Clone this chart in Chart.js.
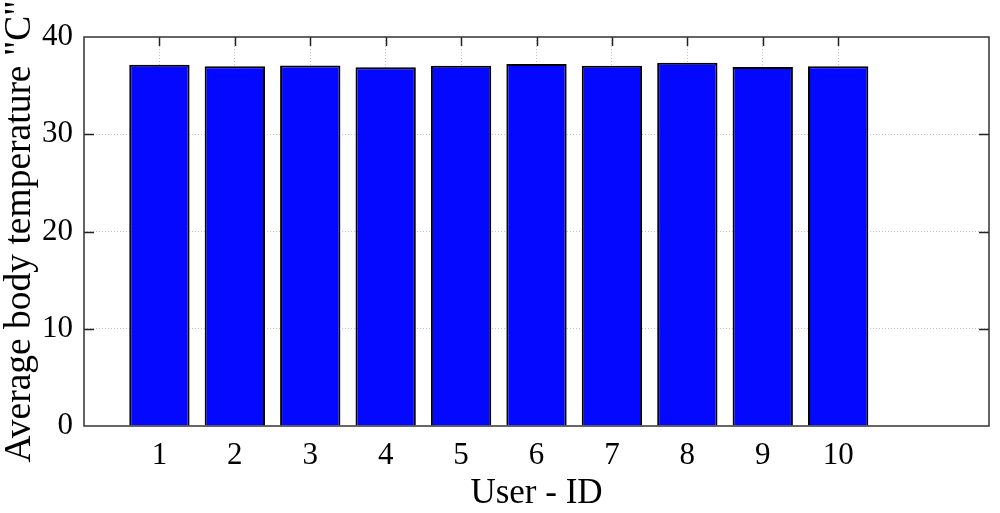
<!DOCTYPE html>
<html>
<head>
<meta charset="utf-8">
<script src="https://cdn.jsdelivr.net/npm/chart.js@4/dist/chart.umd.min.js"></script>
<style>
  html, body { margin: 0; padding: 0; background: #fff; }
  #wrap { width: 1000px; height: 513px; }
</style>
</head>
<body>
<div id="wrap"><canvas id="chart" width="1000" height="513"></canvas></div>
<script>
// Data
const userIds = [1, 2, 3, 4, 5, 6, 7, 8, 9, 10];
const avgTemps = [37.14, 36.98, 37.08, 36.88, 37.04, 37.22, 37.04, 37.35, 36.91, 36.98];
const yTicks = [0, 10, 20, 30, 40];

const FONT = 'Liberation Serif, Times New Roman, serif';
const GRID_COLOR = '#b8cccc';

// Frame around plot area plus inward tick marks (MATLAB look)
const framePlugin = {
  id: 'frame',
  afterDraw(chart) {
    const { ctx, chartArea: a, scales } = chart;
    ctx.save();
    ctx.strokeStyle = '#222';
    ctx.lineWidth = 1.5;
    ctx.beginPath();
    // x ticks along top edge
    userIds.forEach(id => {
      const px = Math.round(scales.x.getPixelForValue(id)) + 0.5;
      ctx.moveTo(px, a.top);
      ctx.lineTo(px, a.top + 9);
    });
    // y ticks along left and right edges
    yTicks.slice(1, -1).forEach(v => {
      const py = Math.round(scales.y.getPixelForValue(v)) + 0.5;
      ctx.moveTo(a.left, py);
      ctx.lineTo(a.left + 10, py);
      ctx.moveTo(a.right, py);
      ctx.lineTo(a.right - 10, py);
    });
    ctx.stroke();
    ctx.strokeStyle = '#333';
    ctx.lineWidth = 1.5;
    ctx.strokeRect(a.left, a.top, a.right - a.left, a.bottom - a.top);
    ctx.restore();
  },
};

const ctx = document.getElementById('chart').getContext('2d');

new Chart(ctx, {
  type: 'bar',
  data: {
    datasets: [{
      data: userIds.map((id, i) => ({ x: id, y: avgTemps[i] })),
      backgroundColor: '#0508ff',
      borderColor: '#000',
      borderWidth: 2,
      barPercentage: 0.8,
      categoryPercentage: 1.0,
    }],
  },
  options: {
    responsive: false,
    animation: false,
    layout: {
      padding: { top: 37, right: 7, bottom: 0, left: 0 },
    },
    plugins: {
      legend: { display: false },
      tooltip: { enabled: false },
    },
    scales: {
      x: {
        type: 'linear',
        min: 0,
        max: 12,
        offset: false,
        afterFit: scale => { scale.height = 87; },
        ticks: {
          stepSize: 1,
          autoSkip: false,
          maxRotation: 0,
          padding: 11,
          color: '#000',
          font: { family: FONT, size: 31 },
          callback: value => (userIds.includes(value) ? String(value) : ''),
        },
        grid: {
          offset: false,
          drawTicks: false,
          lineWidth: 1,
          color: c => (userIds.includes(c.tick && c.tick.value) ? GRID_COLOR : 'rgba(0,0,0,0)'),
        },
        border: { display: false, dash: [1, 2] },
        title: {
          display: true,
          text: 'User - ID',
          color: '#000',
          font: { family: FONT, size: 35, lineHeight: 1 },
          padding: { top: 0, bottom: 2 },
        },
      },
      y: {
        min: 0,
        max: 40,
        afterFit: scale => { scale.width = 84; },
        ticks: {
          stepSize: 10,
          padding: 11,
          color: '#000',
          font: { family: FONT, size: 31 },
        },
        grid: {
          drawTicks: false,
          lineWidth: 1,
          color: c => (c.tick && c.tick.value > 0 && c.tick.value < 40 ? GRID_COLOR : 'rgba(0,0,0,0)'),
        },
        border: { display: false, dash: [1, 2] },
        title: {
          display: true,
          text: 'Average body temperature "C"',
          color: '#000',
          font: { family: FONT, size: 37.5, lineHeight: 1 },
          padding: { top: 1.5, bottom: 0 },
        },
      },
    },
  },
  plugins: [framePlugin],
});
</script>
</body>
</html>
